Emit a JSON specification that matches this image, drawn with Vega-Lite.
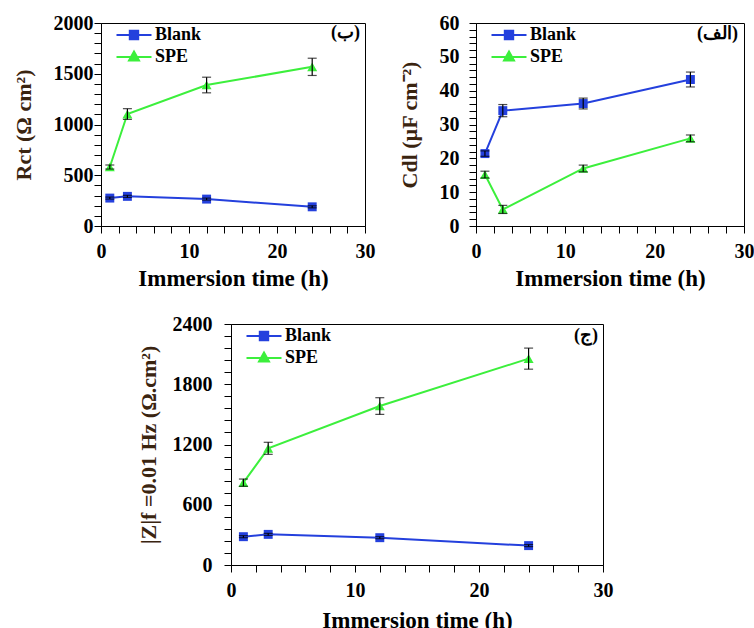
{
  "$schema": "https://vega.github.io/schema/vega-lite/v6.json",
  "padding": {"left": 11, "top": 12, "right": 0, "bottom": 0},
  "background": "white",
  "datasets": {
    "rct": [
      {"series": "Blank", "time": 1, "value": 275, "err": 10},
      {"series": "Blank", "time": 3, "value": 292, "err": 10},
      {"series": "Blank", "time": 12, "value": 265, "err": 10},
      {"series": "Blank", "time": 24, "value": 189, "err": 10},
      {"series": "SPE", "time": 1, "value": 581, "err": 20},
      {"series": "SPE", "time": 3, "value": 1103, "err": 53},
      {"series": "SPE", "time": 12, "value": 1389, "err": 77},
      {"series": "SPE", "time": 24, "value": 1568, "err": 85}
    ],
    "cdl": [
      {"series": "Blank", "time": 1, "value": 21.4, "err": 0.8},
      {"series": "Blank", "time": 3, "value": 34.1, "err": 1.8},
      {"series": "Blank", "time": 12, "value": 36.2, "err": 1.6},
      {"series": "Blank", "time": 24, "value": 43.3, "err": 2.2},
      {"series": "SPE", "time": 1, "value": 15.2, "err": 1.0},
      {"series": "SPE", "time": 3, "value": 4.9, "err": 1.2},
      {"series": "SPE", "time": 12, "value": 17.0, "err": 1.0},
      {"series": "SPE", "time": 24, "value": 25.9, "err": 1.0}
    ],
    "z": [
      {"series": "Blank", "time": 1, "value": 282, "err": 10},
      {"series": "Blank", "time": 3, "value": 305, "err": 10},
      {"series": "Blank", "time": 12, "value": 272, "err": 10},
      {"series": "Blank", "time": 24, "value": 193, "err": 10},
      {"series": "SPE", "time": 1, "value": 820, "err": 36},
      {"series": "SPE", "time": 3, "value": 1162, "err": 60},
      {"series": "SPE", "time": 12, "value": 1583, "err": 83},
      {"series": "SPE", "time": 24, "value": 2055, "err": 105}
    ]
  },
  "vconcat": [
    {
      "bounds": "flush",
      "spacing": 111,
      "resolve": {"scale": {"shape": "independent", "fill": "independent", "stroke": "independent"}, "legend": {"shape": "independent", "fill": "independent", "stroke": "independent"}},
      "hconcat": [
        {
          "width": 264, "height": 203,
          "title": {"text": "(ب)", "anchor": "end", "frame": "group", "offset": -24, "dx": -5, "dy": 5, "fontSize": 18, "font": "Liberation Serif", "fontWeight": "bold", "color": "black"},
          "data": {"name": "rct"},
          "encoding": {
            "x": {"field": "time", "type": "quantitative", "scale": {"domain": [0, 30], "nice": false},
              "axis": {"title": "Immersion time (h)", "format": "d", "values": [0,2,4,6,8,10,12,14,16,18,20,22,24,26,28,30],
                "labelExpr": "datum.value % 10 === 0 ? datum.label : ''",
                "encode": {"ticks": {"update": {"y2": {"signal": "datum.value % 10 === 0 ? 7 : -5"}}}}}},
            "y": {"field": "value", "type": "quantitative", "scale": {"domain": [0, 2000], "nice": false},
              "axis": {"title": "Rct (Ω cm²)", "format": "d", "values": [0,100,200,300,400,500,600,700,800,900,1000,1100,1200,1300,1400,1500,1600,1700,1800,1900,2000],
                "labelExpr": "datum.value % 500 === 0 ? datum.label : ''",
                "encode": {"ticks": {"update": {"x2": {"signal": "datum.value % 500 === 0 ? -7 : 5"}}}}}}
          },
          "layer": [
            {"transform": [{"filter": "datum.series === 'Blank'"}], "mark": {"type": "line", "strokeWidth": 2, "color": "#2440dd"}},
            {"transform": [{"filter": "datum.series === 'SPE'"}], "mark": {"type": "line", "strokeWidth": 2, "color": "#3cef3c"}},
            {"transform": [{"filter": "datum.series === 'Blank'"}],
             "mark": {"type": "point", "shape": "square", "filled": true, "size": 80, "color": "#2440dd", "opacity": 1}},
            {"transform": [{"filter": "datum.series === 'SPE'"}],
             "mark": {"type": "point", "shape": "triangle-up", "filled": true, "size": 100, "color": "#3cef3c", "opacity": 1}},
            {"mark": {"type": "errorbar", "ticks": true, "size": 9, "thickness": 1.2, "color": "black"},
             "encoding": {"yError": {"field": "err"}}},
            {"transform": [{"filter": "false"}],
             "mark": {"type": "point", "filled": true, "strokeWidth": 2, "opacity": 1},
             "encoding": {
               "shape": {"field": "series", "type": "nominal", "scale": {"domain": ["Blank", "SPE"], "range": ["M-1.75,0H1.75M-0.42,-0.42H0.42V0.42H-0.42Z", "M-1.75,0H1.75M0,-0.55L0.5,0.35H-0.5Z"]}},
               "fill": {"field": "series", "type": "nominal", "scale": {"domain": ["Blank", "SPE"], "range": ["#2440dd", "#3cef3c"]}},
               "stroke": {"field": "series", "type": "nominal", "scale": {"domain": ["Blank", "SPE"], "range": ["#2440dd", "#3cef3c"]}}
             }}
          ]
        },
        {
          "width": 268, "height": 203,
          "title": {"text": "(الف)", "anchor": "end", "frame": "group", "offset": -24, "dx": -6, "dy": 6, "fontSize": 18, "font": "Liberation Serif", "fontWeight": "bold", "color": "black"},
          "data": {"name": "cdl"},
          "encoding": {
            "x": {"field": "time", "type": "quantitative", "scale": {"domain": [0, 30], "nice": false},
              "axis": {"title": "Immersion time (h)", "format": "d", "values": [0,2,4,6,8,10,12,14,16,18,20,22,24,26,28,30],
                "labelExpr": "datum.value % 10 === 0 ? datum.label : ''",
                "encode": {"ticks": {"update": {"y2": {"signal": "datum.value % 10 === 0 ? 7 : -5"}}}}}},
            "y": {"field": "value", "type": "quantitative", "scale": {"domain": [0, 60], "nice": false},
              "axis": {"title": "Cdl (µF cm⁻²)", "format": "d", "labelPadding": 10, "values": [0,2,4,6,8,10,12,14,16,18,20,22,24,26,28,30,32,34,36,38,40,42,44,46,48,50,52,54,56,58,60],
                "labelExpr": "datum.value % 10 === 0 ? datum.label : ''",
                "encode": {"ticks": {"update": {"x2": {"signal": "datum.value % 10 === 0 ? -7 : 5"}}}}}}
          },
          "layer": [
            {"transform": [{"filter": "datum.series === 'Blank'"}], "mark": {"type": "line", "strokeWidth": 2, "color": "#2440dd"}},
            {"transform": [{"filter": "datum.series === 'SPE'"}], "mark": {"type": "line", "strokeWidth": 2, "color": "#3cef3c"}},
            {"transform": [{"filter": "datum.series === 'Blank'"}],
             "mark": {"type": "point", "shape": "square", "filled": true, "size": 80, "color": "#2440dd", "opacity": 1}},
            {"transform": [{"filter": "datum.series === 'SPE'"}],
             "mark": {"type": "point", "shape": "triangle-up", "filled": true, "size": 100, "color": "#3cef3c", "opacity": 1}},
            {"mark": {"type": "errorbar", "ticks": true, "size": 9, "thickness": 1.2, "color": "black"},
             "encoding": {"yError": {"field": "err"}}},
            {"transform": [{"filter": "false"}],
             "mark": {"type": "point", "filled": true, "strokeWidth": 2, "opacity": 1},
             "encoding": {
               "shape": {"field": "series", "type": "nominal", "scale": {"domain": ["Blank", "SPE"], "range": ["M-1.75,0H1.75M-0.42,-0.42H0.42V0.42H-0.42Z", "M-1.75,0H1.75M0,-0.55L0.5,0.35H-0.5Z"]}},
               "fill": {"field": "series", "type": "nominal", "scale": {"domain": ["Blank", "SPE"], "range": ["#2440dd", "#3cef3c"]}},
               "stroke": {"field": "series", "type": "nominal", "scale": {"domain": ["Blank", "SPE"], "range": ["#2440dd", "#3cef3c"]}}
             }}
          ]
        }
      ]
    },
    {
      "bounds": "flush",
      "spacing": 20,
      "resolve": {"scale": {"shape": "independent", "fill": "independent", "stroke": "independent"}, "legend": {"shape": "independent", "fill": "independent", "stroke": "independent"}},
      "hconcat": [
        {"width": 110, "height": 10, "data": {"values": []}, "mark": "point", "encoding": {}, "view": {"stroke": null}},
        {
          "width": 372, "height": 241,
          "title": {"text": "(ج)", "anchor": "end", "frame": "group", "offset": -24, "dx": -5, "dy": 7, "fontSize": 18, "font": "Liberation Serif", "fontWeight": "bold", "color": "black"},
          "data": {"name": "z"},
          "encoding": {
            "x": {"field": "time", "type": "quantitative", "scale": {"domain": [0, 30], "nice": false},
              "axis": {"title": "Immersion time (h)", "format": "d", "titlePadding": 9, "values": [0,2,4,6,8,10,12,14,16,18,20,22,24,26,28,30],
                "labelExpr": "datum.value % 10 === 0 ? datum.label : ''",
                "encode": {"ticks": {"update": {"y2": {"signal": "datum.value % 10 === 0 ? 7 : -5"}}}}}},
            "y": {"field": "value", "type": "quantitative", "scale": {"domain": [0, 2400], "nice": false},
              "axis": {"title": "|Z|f =0.01 Hz (Ω.cm²)", "format": "d", "labelPadding": 12, "titlePadding": 12, "values": [0,120,240,360,480,600,720,840,960,1080,1200,1320,1440,1560,1680,1800,1920,2040,2160,2280,2400],
                "labelExpr": "datum.value % 600 === 0 ? datum.label : ''",
                "encode": {"ticks": {"update": {"x2": {"signal": "datum.value % 600 === 0 ? -7 : 5"}}}}}}
          },
          "layer": [
            {"transform": [{"filter": "datum.series === 'Blank'"}], "mark": {"type": "line", "strokeWidth": 2, "color": "#2440dd"}},
            {"transform": [{"filter": "datum.series === 'SPE'"}], "mark": {"type": "line", "strokeWidth": 2, "color": "#3cef3c"}},
            {"transform": [{"filter": "datum.series === 'Blank'"}],
             "mark": {"type": "point", "shape": "square", "filled": true, "size": 80, "color": "#2440dd", "opacity": 1}},
            {"transform": [{"filter": "datum.series === 'SPE'"}],
             "mark": {"type": "point", "shape": "triangle-up", "filled": true, "size": 100, "color": "#3cef3c", "opacity": 1}},
            {"mark": {"type": "errorbar", "ticks": true, "size": 9, "thickness": 1.2, "color": "black"},
             "encoding": {"yError": {"field": "err"}}},
            {"transform": [{"filter": "false"}],
             "mark": {"type": "point", "filled": true, "strokeWidth": 2, "opacity": 1},
             "encoding": {
               "shape": {"field": "series", "type": "nominal", "scale": {"domain": ["Blank", "SPE"], "range": ["M-1.75,0H1.75M-0.42,-0.42H0.42V0.42H-0.42Z", "M-1.75,0H1.75M0,-0.55L0.5,0.35H-0.5Z"]}},
               "fill": {"field": "series", "type": "nominal", "scale": {"domain": ["Blank", "SPE"], "range": ["#2440dd", "#3cef3c"]}},
               "stroke": {"field": "series", "type": "nominal", "scale": {"domain": ["Blank", "SPE"], "range": ["#2440dd", "#3cef3c"]}}
             }}
          ]
        }
      ]
    }
  ],
  "spacing": 22,
  "resolve": {"scale": {"shape": "independent", "fill": "independent", "stroke": "independent"}, "legend": {"shape": "independent", "fill": "independent", "stroke": "independent"}},
  "config": {
    "view": {"stroke": "black", "strokeWidth": 1},
    "axis": {"grid": false, "domainColor": "black", "tickColor": "black", "tickWidth": 1, "tickSize": 7, "labelFont": "Liberation Serif", "labelFontWeight": "bold", "labelFontSize": 20, "labelColor": "black", "labelOverlap": false, "labelFlush": false, "titleFont": "Liberation Serif", "titleFontWeight": "bold", "titleColor": "black"},
    "axisX": {"titleFontSize": 23, "labelPadding": 8, "titlePadding": 6},
    "axisY": {"titleFontSize": 22, "titleColor": "#3a2410", "labelPadding": 1, "titlePadding": 18},
    "legend": {"title": null, "orient": "none", "legendX": 22, "legendY": 1, "symbolSize": 400, "symbolStrokeWidth": 2, "rowPadding": 2, "labelOffset": 10, "padding": 0, "labelFont": "Liberation Serif", "labelFontSize": 18, "labelFontWeight": "bold", "labelColor": "black", "symbolOpacity": 1}
  }
}
